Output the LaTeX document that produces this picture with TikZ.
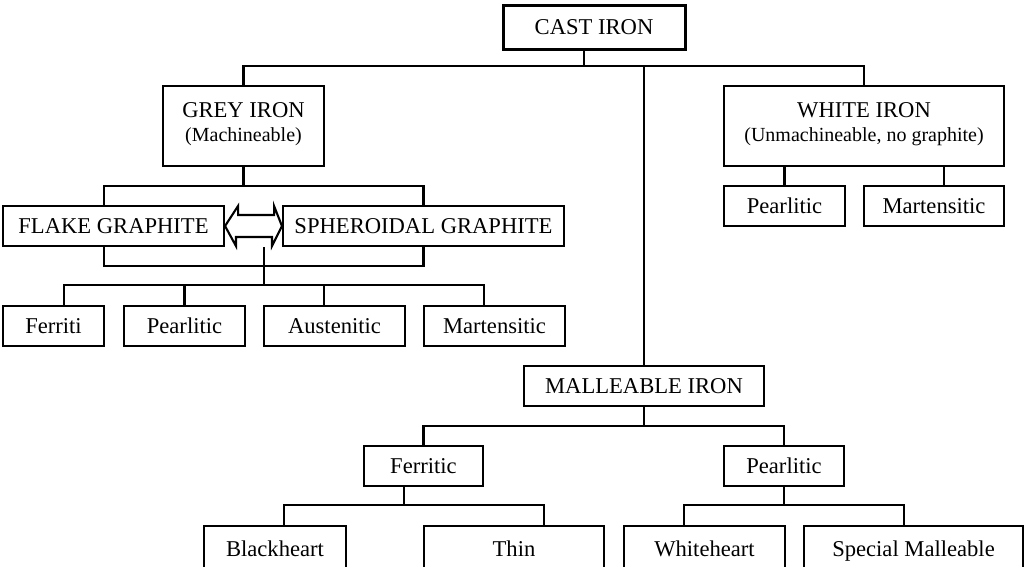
\documentclass[tikz,border=0pt]{standalone}
\usepackage{fontspec}
\setmainfont{Liberation Serif}
\usetikzlibrary{calc}

\begin{document}
\begin{tikzpicture}[x=1pt,y=-1pt,link/.style={line width=2.1pt}]
					\tikzset{set/.style={draw,rectangle,line width=2.1pt,inner sep=0pt,align=center,minimum height=80pt,font=\fontsize{22.6}{27}\selectfont}}
					\tikzset{leaf/.style={draw,rectangle,line width=2.1pt,inner sep=0pt,text centered,minimum height=40pt,text height=15pt,text depth=0pt,font=\fontsize{22.6}{27}\selectfont}}

					\clip (0,0) rectangle (1024,566);

					% Cast iron and the three families
					\node[leaf, minimum width=182pt, minimum height=44pt, line width=3pt] (cast) at (594,27) {CAST IRON};
					\node[set, minimum width=161pt] (grey) at (243.5,126) {GREY IRON\\[-2.7pt]{\fontsize{20}{24}\selectfont (Machineable)}\\[-19pt]{}};
					\node[set, minimum width=280pt] (white) at (864,126) {WHITE IRON\\[-2.7pt]{\fontsize{20}{24}\selectfont (Unmachineable, no graphite)}\\[-19pt]{}};
					\node[leaf, minimum width=240pt] (malle) at (644,386) {MALLEABLE IRON};

					% Grey iron
					\node[leaf, minimum width=221pt] (flake) at (113.5,226) {FLAKE GRAPHITE};
					\node[leaf, minimum width=281pt] (spher) at (423.5,226) {SPHEROIDAL GRAPHITE};

					\node[leaf, minimum width=101pt] (gferr) at (53.5,326) {Ferriti};
					\node[leaf, minimum width=121pt] (gpearl) at (184.5,326) {Pearlitic};
					\node[leaf, minimum width=141pt] (gaust) at (334.5,326) {Austenitic};
					\node[leaf, minimum width=141pt] (gmart) at (494.5,326) {Martensitic};

					% White iron
					\node[leaf, minimum width=121pt] (wpearl) at (784.5,206) {Pearlitic};
					\node[leaf, minimum width=140pt] (wmart) at (934,206) {Martensitic};

					% Malleable iron
					\node[leaf, minimum width=119pt] (mferr) at (423.5,466) {Ferritic};
					\node[leaf, minimum width=120pt] (mpearl) at (784,466) {Pearlitic};

					\node[leaf, minimum width=142pt, minimum height=46pt] (black) at (275,549) {Blackheart};
					\node[leaf, minimum width=180pt, minimum height=46pt] (thin) at (514,549) {Thin};
					\node[leaf, minimum width=161pt, minimum height=46pt] (whiteh) at (704.5,549) {Whiteheart};
					\node[leaf, minimum width=219pt, minimum height=46pt] (special) at (913.5,549) {Special Malleable};

					% bus lines
					\coordinate (b0) at (0,66);
					\coordinate (b1) at (0,186);
					\coordinate (b2) at (0,266);
					\coordinate (b3) at (0,285);
					\coordinate (b5) at (0,426);
					\coordinate (b6) at (0,505);
					\coordinate (fs) at ([xshift=-9.5pt]flake.south);
					\coordinate (m2) at ($(fs)!0.5!(spher.south)$);

					\draw [link] ([xshift=-10pt]cast.south) -- ([xshift=-10pt]cast.south |- b0);
					\draw [link] (grey.north) |- (b0 -| white.north) -- (white.north);
					\draw [link] (malle.north) -- (malle.north |- b0);

					\draw [link] (grey.south) -- (grey.south |- b1);
					\draw [link] ([xshift=-9.5pt]flake.north) |- (b1 -| spher.north) -- (spher.north);
					\draw [link] (fs) |- (b2 -| spher.south) -- (spher.south);
					\draw [link] (m2) -- (m2 |- b3);
					\draw [link] ([xshift=10.5pt]gferr.north) |- ([xshift=-10.5pt]gmart.north |- b3) -- ([xshift=-10.5pt]gmart.north);
					\draw [link] (gpearl.north) -- (gpearl.north |- b3);
					\draw [link] ([xshift=-10.5pt]gaust.north) -- ([xshift=-10.5pt]gaust.north |- b3);

					\draw [link] (flake.east) -- ++(13,-20) -- ++(0,9) -- ++(36,0) -- ++(0,-9) -- (spher.west) -- ++(-10,20) -- ++(0,-9) -- ++(-36,0) -- ++(0,9) -- cycle;

					\draw [link] (wpearl.north) -- (wpearl.north |- white.south);
					\draw [link] ([xshift=10pt]wmart.north) -- ([xshift=10pt]wmart.north |- white.south);

					\draw [link] (malle.south) -- (malle.south |- b5);
					\draw [link] (mferr.north) |- (b5 -| mpearl.north) -- (mpearl.north);
					\draw [link] ([xshift=-19.5pt]mferr.south) -- ([xshift=-19.5pt]mferr.south |- b6);
					\draw [link] ([xshift=9pt]black.north) |- ([xshift=30pt]thin.north |- b6) -- ([xshift=30pt]thin.north);
					\draw [link] (mpearl.south) -- (mpearl.south |- b6);
					\draw [link] ([xshift=-20.5pt]whiteh.north) |- ([xshift=-9.5pt]special.north |- b6) -- ([xshift=-9.5pt]special.north);

				\end{tikzpicture}
\end{document}
